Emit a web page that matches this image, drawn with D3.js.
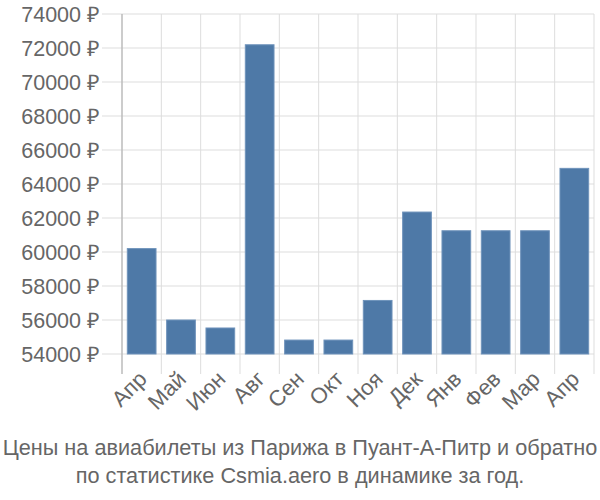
<!DOCTYPE html>
<html><head><meta charset="utf-8">
<script src="https://cdn.jsdelivr.net/npm/d3@7"></script>
<style>body{margin:0;background:#fff}svg{display:block}</style>
</head><body>
<svg id="c" width="600" height="500"></svg>
<script>
const categories = ["Апр","Май","Июн","Авг","Сен","Окт","Ноя","Дек","Янв","Фев","Мар","Апр"];
const values = [60200, 56000, 55530, 72190, 54820, 54820, 57150, 62350, 61250, 61250, 61250, 64920];
const yTicks = [54000,56000,58000,60000,62000,64000,66000,68000,70000,72000,74000];
const titleLines = ["Цены на авиабилеты из Парижа в Пуант-А-Питр и обратно","по статистике Csmia.aero в динамике за год."];

const svg = d3.select("#c");
const L = 122, R = 594, T = 14, B = 354;
const font = "'Liberation Sans', Arial, sans-serif";
const x = d3.scaleBand().domain(d3.range(categories.length)).range([L, R]).paddingInner(0.27).paddingOuter(0.135);
const xg = d3.scaleBand().domain(d3.range(categories.length)).range([L, R]);
const y = d3.scaleLinear().domain([54000, 74000]).range([B, T]);

// horizontal grid
svg.append("g").selectAll("line").data(yTicks).join("line")
  .attr("x1", 102).attr("x2", R).attr("y1", d => y(d)).attr("y2", d => y(d))
  .attr("stroke", "#dddddd").attr("stroke-width", 1);
// vertical grid
const vx = d3.range(categories.length + 1).map(i => i < categories.length ? xg(i) : R);
svg.append("g").selectAll("line").data(vx).join("line")
  .attr("x1", d => d).attr("x2", d => d).attr("y1", T).attr("y2", B + 20)
  .attr("stroke", "#dddddd").attr("stroke-width", 1);
// axis line
svg.append("line").attr("x1", L).attr("x2", L).attr("y1", T).attr("y2", B + 20)
  .attr("stroke", "#aaaaaa").attr("stroke-width", 1);

// bars
svg.append("g").selectAll("rect").data(values).join("rect")
  .attr("x", (d, i) => x(i)).attr("width", x.bandwidth())
  .attr("y", d => y(d)).attr("height", d => B - y(d))
  .attr("fill", "#4e79a7").attr("stroke", "#6f93bb").attr("stroke-width", 1);

// y labels
svg.append("g").selectAll("text").data(yTicks).join("text")
  .attr("x", 100).attr("y", d => y(d)).attr("dy", "0.35em")
  .attr("text-anchor", "end").attr("fill", "#666").attr("font-family", font).attr("font-size", 21.5)
  .text(d => d + " ₽");

// x labels
svg.append("g").selectAll("text").data(categories).join("text")
  .attr("transform", (d, i) => `translate(${xg(i) + xg.bandwidth()/2 + 1},${B + 21}) rotate(-45)`)
  .attr("text-anchor", "end").attr("dy", "0.35em")
  .attr("fill", "#666").attr("font-family", font).attr("font-size", 22)
  .text(d => d);

// title
svg.append("g").selectAll("text").data(titleLines).join("text")
  .attr("x", 300).attr("y", (d, i) => 455 + i * 28)
  .attr("text-anchor", "middle").attr("fill", "#666").attr("font-family", font).attr("font-size", 21.7)
  .text(d => d);
</script>
</body></html>
